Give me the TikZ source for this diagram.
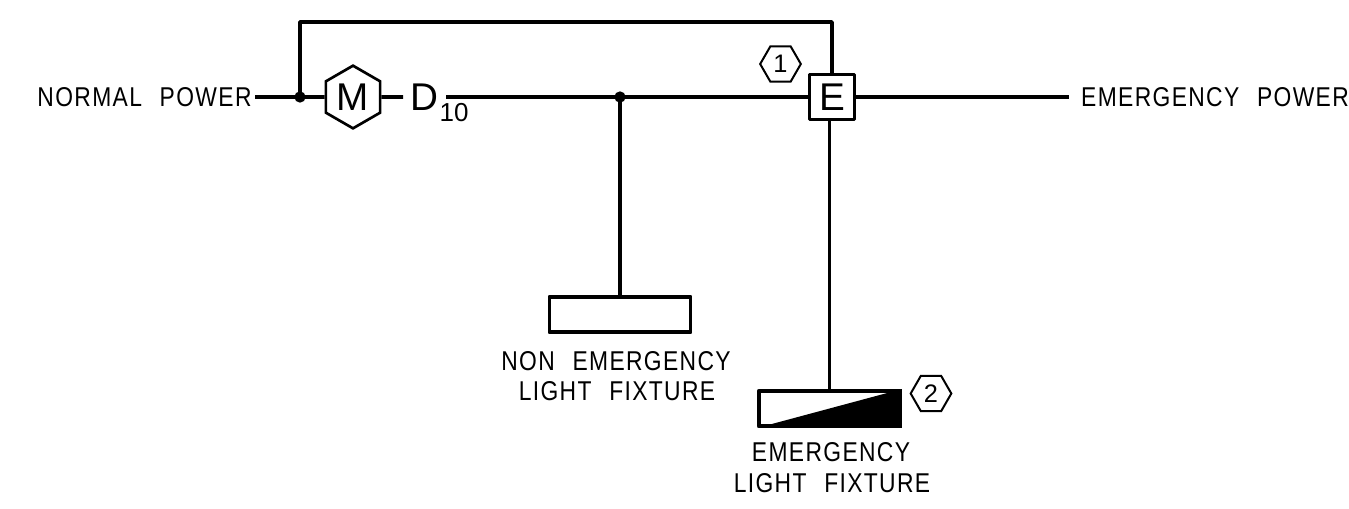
\documentclass[tikz,border=0pt]{standalone}
\usepackage{fontspec}
\setmainfont{Liberation Sans}
\newfontfamily\cadfont[FakeStretch=0.84,LetterSpace=5,WordSpace=2.3]{Liberation Sans}
\usetikzlibrary{shapes.geometric,calc}
\tikzset{
  wire/.style={line width=2.7pt,line join=round},
  lbl/.style={inner sep=0pt,font=\cadfont\fontsize{20.4}{20.4}\selectfont},
  bigl/.style={inner sep=0pt,font=\fontsize{29}{29}\selectfont},
  subl/.style={inner sep=0pt,font=\fontsize{19.5}{19.5}\selectfont},
  taglbl/.style={regular polygon,regular polygon sides=6,draw,line width=1.5pt,inner sep=0pt,minimum size=30.5pt,font=\fontsize{19}{19}\selectfont},
  motor/.style={regular polygon,regular polygon sides=6,shape border rotate=30,draw,line width=2pt,inner sep=0pt,minimum size=47pt,font=\fontsize{29}{29}\selectfont},
  xfer/.style={draw,line width=2.7pt,line join=round,fill=white,inner sep=0pt,minimum width=33.5pt,minimum height=33.5pt,font=\fontsize{29}{29}\selectfont},
  fixture/.style={draw,line width=2.7pt,line join=round,inner sep=0pt,minimum width=106pt,minimum height=26.5pt},
  joint/.style={circle,fill=black,inner sep=0pt,minimum size=8.5pt}
}
\begin{document}
\begin{tikzpicture}[x=0.75pt,y=-0.75pt]
\useasboundingbox (0,0) rectangle (1349,508);
\node[lbl] (np) at (144.5,97) {NORMAL POWER};
\node[lbl] (ep) at (1215,97) {EMERGENCY POWER};
\node[joint] (j1) at (300,97) {};
\node[motor] (m) at (353,97) {M};
\node[bigl] (d) at (424,97) {D};
\node[subl] (ten) at (454,113) {10};
\coordinate (dr) at (446,97);
\coordinate (dl) at (403,97);
\coordinate (nstart) at (255,97);
\node[xfer] (e) at (832,97) {E};
\node[joint] (j2) at (620,97) {};
\node[fixture] (f1) at (620,314.5) {};
\node[fixture] (f2) at (829.5,408.5) {};
\node[taglbl] (t1) at (780.5,64) {1};
\node[taglbl] (t2) at (931,393.5) {2};
\node[lbl] (f1a) at (616,361) {NON EMERGENCY};
\node[lbl] (f1b) at (617,391) {LIGHT FIXTURE};
\node[lbl] (f2a) at (831,452) {EMERGENCY};
\node[lbl] (f2b) at (832,483) {LIGHT FIXTURE};
\coordinate (tc) at (300,22);
\coordinate (eout) at (1069,97);
\draw[wire] (nstart) -- (m.west);
\draw[wire] (m.east) -- (dl);
\draw[wire] (dr) -- (e.west);
\draw[wire] (e.east) -- (eout);
\draw[wire] (j1.center) -- (tc) -| (e.north);
\draw[wire] (j2.center) -- (f1.north);
\draw[wire] (f2.north) -- (f2.north |- e.south);
\fill[black] (f2.south west) -- (f2.north east) -- (f2.south east) -- cycle;
\end{tikzpicture}
\end{document}
